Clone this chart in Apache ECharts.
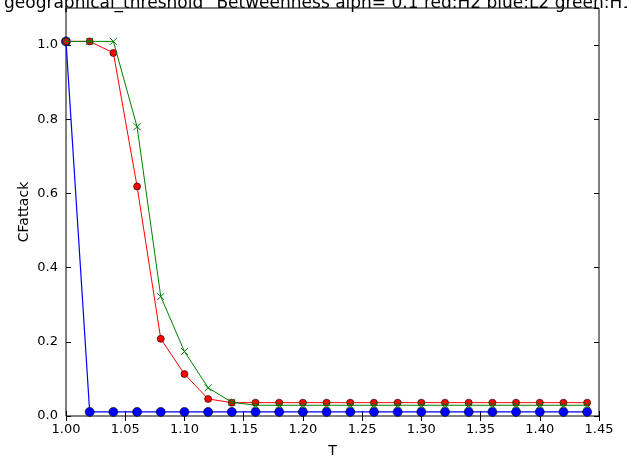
<!DOCTYPE html>
<html>
<head>
<meta charset="utf-8">
<script src="https://cdn.jsdelivr.net/npm/echarts@6/dist/echarts.min.js"></script>
<style>
  html, body { margin: 0; padding: 0; background: #fff; }
  #chart { width: 627px; height: 463px; }
</style>
</head>
<body>
<div id="chart"></div>
<script>
const T = [1.00, 1.02, 1.04, 1.06, 1.08, 1.10, 1.12, 1.14, 1.16, 1.18, 1.20, 1.22,
  1.24, 1.26, 1.28, 1.30, 1.32, 1.34, 1.36, 1.38, 1.40, 1.42, 1.44];
const redH2 = [1.01, 1.01, 0.979, 0.619, 0.208, 0.113, 0.046, 0.036, 0.036, 0.036, 0.036, 0.036,
  0.036, 0.036, 0.036, 0.036, 0.036, 0.036, 0.036, 0.036, 0.036, 0.036, 0.036];
const blueL2 = [1.01, 0.011, 0.011, 0.011, 0.011, 0.011, 0.011, 0.011, 0.011, 0.011, 0.011, 0.011,
  0.011, 0.011, 0.011, 0.011, 0.011, 0.011, 0.011, 0.011, 0.011, 0.011, 0.011];
const greenH1 = [1.01, 1.01, 1.01, 0.78, 0.322, 0.174, 0.076, 0.037, 0.029, 0.029, 0.029, 0.029,
  0.029, 0.029, 0.029, 0.029, 0.029, 0.029, 0.029, 0.029, 0.029, 0.029, 0.029];
const titleText = 'geographical_threshold "Betweenness alph= 0.1 red:H2 blue:L2 green:H1';

const pairs = (ys) => T.map((t, i) => [t, ys[i]]);
const font = "DejaVu Sans";

const chart = echarts.init(document.getElementById("chart"));

const axisCommon = {
  axisLine: { show: false },
  splitLine: { show: false },
  axisTick: { inside: true, length: 5, lineStyle: { color: "#000" } },
};

chart.setOption({
  animation: false,
  title: {
    text: titleText,
    left: -1,
    top: -10,
    textStyle: { fontFamily: font, fontSize: 17, fontWeight: "normal", color: "#000" },
  },
  grid: {
    left: 66, right: 28, top: 8, bottom: 43,
    show: true, borderColor: "#000", borderWidth: 1, backgroundColor: "#fff",
  },
  xAxis: [
    {
      ...axisCommon,
      type: "value", min: 1.0, max: 1.45, interval: 0.05,
      name: "T", nameLocation: "middle", nameGap: 28, nameMoveOverlap: false,
      nameTextStyle: { fontFamily: font, fontSize: 14, color: "#000" },
      axisLabel: { fontFamily: font, fontSize: 13, color: "#000", margin: 7,
        formatter: (v) => v.toFixed(2) },
    },
    {
      ...axisCommon,
      type: "value", position: "top", min: 1.0, max: 1.45, interval: 0.05,
      axisLabel: { show: false },
    },
  ],
  yAxis: [
    {
      ...axisCommon,
      type: "value", min: 0, max: 1.1, interval: 0.2,
      name: "CFattack", nameLocation: "middle", nameGap: 35, nameMoveOverlap: false,
      nameTextStyle: { fontFamily: font, fontSize: 14, color: "#000" },
      axisLabel: { fontFamily: font, fontSize: 13, color: "#000", margin: 8,
        showMaxLabel: false, formatter: (v) => v.toFixed(1) },
    },
    {
      ...axisCommon,
      type: "value", position: "right", min: 0, max: 1.1, interval: 0.2,
      axisLabel: { show: false },
    },
  ],
  series: [
    {
      name: "H2", type: "line", data: pairs(redH2),
      lineStyle: { color: "#ff0000", width: 1 },
      symbol: "circle", symbolSize: 7,
      itemStyle: { color: "#ff0000", borderColor: "#000", borderWidth: 0.6 },
      z: 3,
    },
    {
      name: "L2", type: "line", data: pairs(blueL2),
      lineStyle: { color: "#0000ff", width: 1.2 },
      symbol: "circle", symbolSize: 9,
      itemStyle: { color: "#0000ff", borderColor: "#000", borderWidth: 0.6 },
      z: 2,
    },
    {
      name: "H1", type: "line", data: pairs(greenH1),
      lineStyle: { color: "#008000", width: 1 },
      symbol: "path://M0,0L10,10M10,0L0,10", symbolSize: 7,
      itemStyle: { color: "none", borderColor: "#008000", borderWidth: 1 },
      z: 4,
    },
  ],
});
</script>
</body>
</html>
